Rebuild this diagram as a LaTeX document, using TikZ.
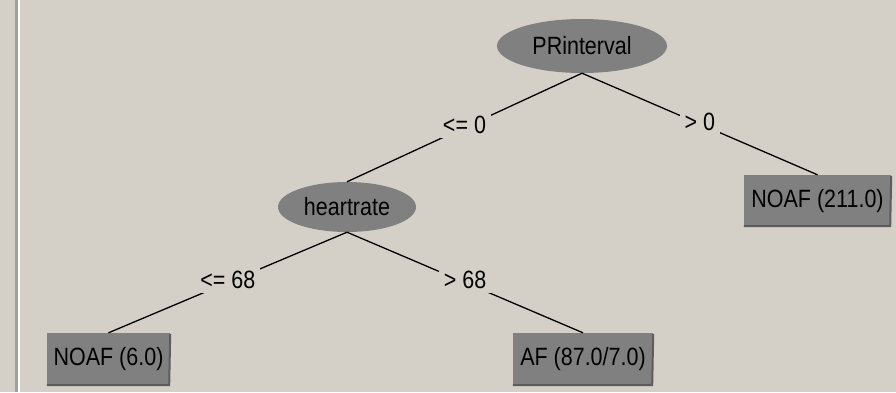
\documentclass[tikz,border=0pt]{standalone}
\usepackage{fontspec}
\setmainfont{Liberation Sans}[FakeStretch=0.86]
\usetikzlibrary{shapes.geometric}
\definecolor{bgc}{HTML}{D4D0C8}
\definecolor{nodec}{HTML}{808080}
\definecolor{shadc}{HTML}{5C5C5C}
\definecolor{framec}{HTML}{A0A0A0}
\tikzset{
  txt/.style={font=\fontsize{25}{30}\selectfont, text=black},
  oval/.style={txt, ellipse, fill=nodec, draw=none, inner sep=0pt},
  leaf/.style={txt, rectangle, fill=nodec, draw=none, inner sep=0pt},
  edge/.style={draw=black, line width=1.3pt},
  lbl/.style={txt, fill=bgc, inner xsep=5pt, inner ysep=4pt, yshift=2.5pt},
  shad/.style={draw=shadc, line width=2pt}
}
\begin{document}
\begin{tikzpicture}[x=1pt,y=-1pt]
\fill[bgc] (0,0) rectangle (896,392);
\useasboundingbox (0,0) rectangle (896,392);
\fill[framec] (15,0) rectangle (17.5,392);
\fill[white] (17.5,0) rectangle (19.5,392);

\node[oval, minimum width=170pt, minimum height=54pt] (pr) at (582,46) {PRinterval};
\node[oval, minimum width=138pt, minimum height=50pt] (hr) at (347,207) {heartrate};
\node[leaf, minimum width=147pt, minimum height=52pt] (n1) at (817.5,201) {NOAF (211.0)};
\node[leaf, minimum width=123pt, minimum height=53pt] (n2) at (108.5,359.5) {NOAF (6.0)};
\node[leaf, minimum width=140pt, minimum height=53pt] (af) at (583,359.5) {AF (87.0/7.0)};

\foreach \n in {n1,n2,af}{
  \draw[shad] ([yshift=-1pt]\n.north east) -- ([xshift=-1pt,yshift=1pt]\n.south east) -- ([yshift=1pt]\n.south west);
}

\path[edge] (pr.south) -- node[lbl] (l1) {<= 0} (hr.north);
\path[edge] (pr.south) -- node[lbl] (l2) {> 0} (n1.north);
\path[edge] (hr.south) -- node[lbl] (l3) {<= 68} (n2.north);
\path[edge] (hr.south) -- node[lbl] (l4) {> 68} (af.north);
\end{tikzpicture}
\end{document}
